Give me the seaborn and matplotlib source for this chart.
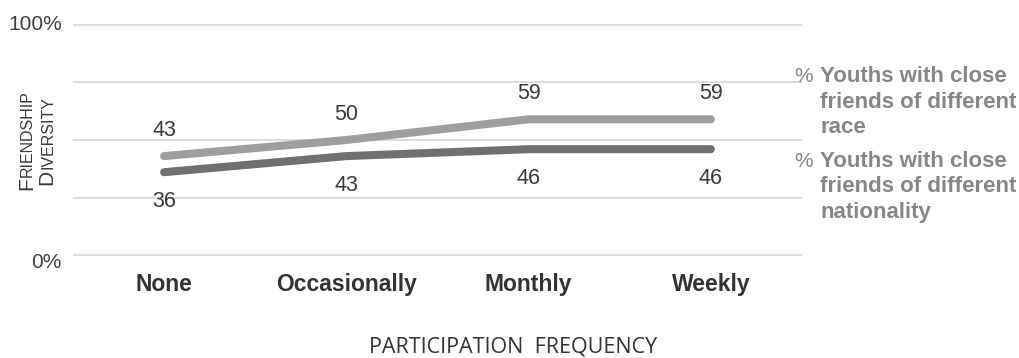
import numpy as np
import pandas as pd
import matplotlib
matplotlib.use("Agg")
import matplotlib.pyplot as plt
from matplotlib.transforms import IdentityTransform, ScaledTranslation
import seaborn as sns

# Participation frequency categories and the share of youths (%) per series
categories = ["None", "Occasionally", "Monthly", "Weekly"]
race_pct = [43, 50, 59, 59]
nationality_pct = [36, 43, 46, 46]
series_names = ["race", "nationality"]
legend_race = ["Youths with close", "friends of different", "race"]
legend_nationality = ["Youths with close", "friends of different", "nationality"]
y_ticks = [0, 25, 50, 75, 100]
y_tick_labels = ["0%", "", "", "", "100%"]

sns.set_style("white")
plt.rcParams["font.family"] = ["Liberation Sans", "DejaVu Sans"]

W, H, DPI = 1020, 358, 100
fig = plt.figure(figsize=(W / DPI, H / DPI), dpi=DPI)

# axes in pixel terms: x 73..802, y (from top) 22.7..257.3 for limits -1..101
left, right = 73, 802
top_px, bot_px = 22.7, 257.3
ax = fig.add_axes([left / W, (H - bot_px) / H, (right - left) / W, (bot_px - top_px) / H])

pos = np.arange(len(categories))
df = pd.DataFrame({
    "pos": np.concatenate([pos, pos]),
    "value": race_pct + nationality_pct,
    "series": [series_names[0]] * len(pos) + [series_names[1]] * len(pos),
})

palette = {"race": "#9e9e9e", "nationality": "#707070"}
sns.lineplot(data=df, x="pos", y="value", hue="series", palette=palette,
             linewidth=5.8, legend=False, sort=False, ax=ax,
             solid_capstyle="round", solid_joinstyle="round")

ax.set_xlim(-0.5, len(categories) - 0.5)
ax.set_ylim(-1, 101)
ax.set_yticks(y_ticks)
ax.set_yticklabels(y_tick_labels, fontsize=15, color="#404040")
ax.set_xticks(pos)
ax.set_xticklabels(categories, fontsize=16.5, fontweight="bold", color="#333333")
ax.tick_params(axis="y", length=0, pad=8)
ax.tick_params(axis="x", length=0, pad=11)
ax.grid(axis="y", color="#d9d9d9", linewidth=1.3)
ax.grid(axis="x", visible=False)
for s in ax.spines.values():
    s.set_visible(False)
ax.set_xlabel("")
ax.set_ylabel("")

# nudge the end labels of the percentage axis
ylabels = ax.get_yticklabels()
ylabels[0].set_transform(ylabels[0].get_transform()
                         + ScaledTranslation(0, -6 / DPI, fig.dpi_scale_trans))
ylabels[-1].set_transform(ylabels[-1].get_transform()
                          + ScaledTranslation(0, 2 / DPI, fig.dpi_scale_trans))

# value labels: race above its line, nationality below
for x, v in zip(pos, race_pct):
    ax.annotate(f"{v}", (x, v), xytext=(0, 26), textcoords="offset pixels",
                ha="center", va="center", fontsize=15.5, color="#3a3a3a")
for x, v in zip(pos, nationality_pct):
    ax.annotate(f"{v}", (x, v), xytext=(0, -29), textcoords="offset pixels",
                ha="center", va="center", fontsize=15.5, color="#3a3a3a")

# series labels on the right
legend_color = "#868686"
pix = IdentityTransform()
line_gap = 25.5
for baseline_top, lines in [(82, legend_race), (167, legend_nationality)]:
    fig.text(794, H - baseline_top, "%", transform=pix, fontsize=15,
             color=legend_color, ha="left", va="baseline")
    for i, txt in enumerate(lines):
        fig.text(820, H - (baseline_top + i * line_gap), txt, transform=pix,
                 fontsize=16, fontweight="bold", color=legend_color,
                 ha="left", va="baseline")

# x-axis title
fig.text(513 / W, (H - 352) / H, "PARTICIPATION  FREQUENCY", family="Open Sans",
         fontsize=15.5, color="#333333", ha="center", va="baseline")

# y-axis title in small caps, two rotated lines
renderer = fig.canvas.get_renderer()


def small_caps_vertical(x_base, y_center, word, big=15, small=11.5, color="#3a3a3a"):
    t1 = fig.text(0, 0, word[0], transform=pix, fontsize=big, rotation=90,
                  rotation_mode="anchor", ha="left", va="baseline", color=color)
    t2 = fig.text(0, 0, word[1:], transform=pix, fontsize=small, rotation=90,
                  rotation_mode="anchor", ha="left", va="baseline", color=color)
    h1 = t1.get_window_extent(renderer).height
    h2 = t2.get_window_extent(renderer).height
    y0 = y_center - (h1 + h2) / 2
    t1.set_position((x_base, y0))
    t2.set_position((x_base, y0 + h1))


small_caps_vertical(32, H - 140, "FRIENDSHIP")
small_caps_vertical(52, H - 140.5, "DIVERSITY")

fig.savefig("out.png", dpi=DPI, facecolor="white")
